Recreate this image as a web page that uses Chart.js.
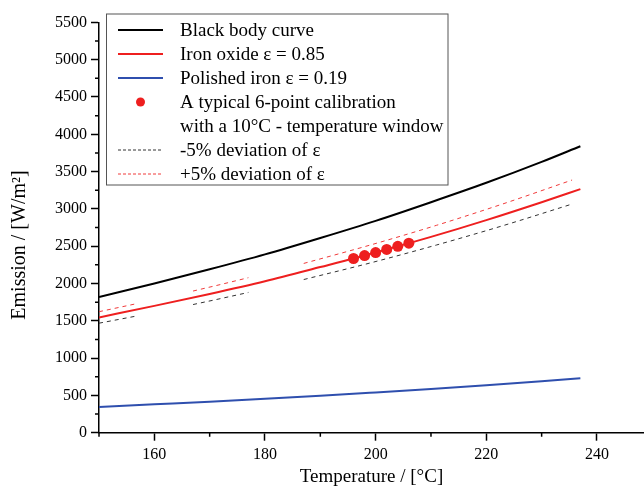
<!DOCTYPE html>
<html lang="en">
<head>
<meta charset="UTF-8">
<title>Emission vs Temperature</title>
<script src="https://cdn.jsdelivr.net/npm/chart.js"></script>
<style>
  html, body { margin: 0; padding: 0; background: #fff; }
  canvas { display: block; }
</style>
</head>
<body>
<canvas id="chart" width="644" height="492"></canvas>
<script>
const temps = [150, 160, 170, 180, 190, 200, 210, 220, 230, 237];
const blackBody = [1820, 2000, 2190, 2390, 2610, 2840, 3090, 3350, 3630, 3840];
const ironOxide = [1545, 1700, 1860, 2030, 2220, 2415, 2625, 2850, 3090, 3265];
const polished  = [345, 380, 415, 455, 495, 540, 587, 637, 690, 730];

// 6-point calibration
const calT = [196, 198, 200, 202, 204, 206];
const calE = [2335, 2375, 2415, 2457, 2498, 2540];

// -5% / +5% deviation segments
const devT1 = [150, 157];
const devT2 = [167, 172, 177];
const devT3 = [187, 199, 211, 223, 235.5];
const minus1 = [1468, 1567];
const minus2 = [1718, 1798, 1880];
const minus3 = [2053, 2275, 2516, 2775, 3065];
const plus1 = [1622, 1733];
const plus2 = [1899, 1987, 2078];
const plus3 = [2269, 2515, 2780, 3067, 3387];

// axis ticks
const xMajor = [160, 180, 200, 220, 240];
const xMinor = [150, 170, 190, 210, 230];
const yMajor = [0, 500, 1000, 1500, 2000, 2500, 3000, 3500, 4000, 4500, 5000, 5500];
const yMinor = [250, 750, 1250, 1750, 2250, 2750, 3250, 3750, 4250, 4750, 5250];

const xTitle = 'Temperature / [\u00b0C]';
const yTitle = 'Emission / [W/m\u00b2]';
const legendLabels = [
  'Black body curve',
  'Iron oxide \u03b5 = 0.85',
  'Polished iron \u03b5 = 0.19',
  'A typical 6-point calibration',
  'with a 10\u00b0C - temperature window',
  '-5% deviation of \u03b5',
  '+5% deviation of \u03b5'
];

const FONT = "'Liberation Serif', 'Times New Roman', serif";
const RED = '#ee1f1f';
const BLUE = '#2f4fae';

const pts = (xs, ys) => xs.map((x, i) => ({ x: x, y: ys[i] }));
const segs = (list) => {
  const out = [];
  list.forEach((s, i) => {
    if (i > 0) out.push({ x: s[0][0], y: null });
    out.push(...pts(s[0], s[1]));
  });
  return out;
};

// short outward ticks between the labelled ones
const minorTicks = {
  id: 'minorTicks',
  afterDraw(chart) {
    const ctx = chart.ctx;
    const xs = chart.scales.x, ys = chart.scales.y;
    const a = chart.chartArea;
    ctx.save();
    ctx.strokeStyle = '#000';
    ctx.lineWidth = 1.5;
    ctx.beginPath();
    xMinor.forEach(v => {
      const px = xs.getPixelForValue(v);
      ctx.moveTo(px, a.bottom);
      ctx.lineTo(px, a.bottom + 4);
    });
    yMinor.forEach(v => {
      const py = ys.getPixelForValue(v);
      ctx.moveTo(a.left, py);
      ctx.lineTo(a.left - 4, py);
    });
    ctx.stroke();
    // y title, sits a bit below the middle of the axis in the original
    ctx.fillStyle = '#000';
    ctx.font = '20px ' + FONT;
    ctx.textAlign = 'center';
    ctx.textBaseline = 'middle';
    ctx.translate(20, 245);
    ctx.rotate(-Math.PI / 2);
    ctx.fillText(yTitle, 0, 0);
    ctx.restore();
  }
};

const boxLegend = {
  id: 'boxLegend',
  afterDraw(chart) {
    const ctx = chart.ctx;
    const L = 106.5, T = 14, R = 448, B = 185;
    ctx.save();
    ctx.fillStyle = '#fff';
    ctx.fillRect(L, T, R - L, B - T);
    ctx.strokeStyle = '#555';
    ctx.lineWidth = 1;
    ctx.strokeRect(L, T, R - L, B - T);
    const rows = [30, 54, 78, 102, 126, 150, 174];
    const x0 = 118, x1 = 163;
    const line = (y, color, w, dash) => {
      ctx.beginPath();
      ctx.setLineDash(dash);
      ctx.strokeStyle = color;
      ctx.lineWidth = w;
      ctx.moveTo(x0, y);
      ctx.lineTo(x1, y);
      ctx.stroke();
      ctx.setLineDash([]);
    };
    line(rows[0], '#000', 2, []);
    line(rows[1], RED, 2, []);
    line(rows[2], BLUE, 2, []);
    ctx.beginPath();
    ctx.fillStyle = RED;
    ctx.arc((x0 + x1) / 2, rows[3], 4.5, 0, Math.PI * 2);
    ctx.fill();
    line(rows[5], '#333', 1, [3, 2]);
    line(rows[6], '#f03a3a', 1, [3, 2]);
    ctx.fillStyle = '#000';
    ctx.font = '19px ' + FONT;
    ctx.textBaseline = 'middle';
    legendLabels.forEach((t, i) => ctx.fillText(t, 180, rows[i] + 1));
    ctx.restore();
  }
};

new Chart(document.getElementById('chart'), {
  type: 'line',
  data: {
    datasets: [
      { label: legendLabels[0], data: pts(temps, blackBody), borderColor: '#000', borderWidth: 2, pointRadius: 0, cubicInterpolationMode: 'monotone' },
      { label: legendLabels[1], data: pts(temps, ironOxide), borderColor: RED, borderWidth: 2, pointRadius: 0, cubicInterpolationMode: 'monotone' },
      { label: legendLabels[2], data: pts(temps, polished), borderColor: BLUE, borderWidth: 2, pointRadius: 0, cubicInterpolationMode: 'monotone' },
      { label: legendLabels[5], data: segs([[devT1, minus1], [devT2, minus2], [devT3, minus3]]), borderColor: '#333', borderWidth: 1, borderDash: [4, 4], pointRadius: 0, spanGaps: false, cubicInterpolationMode: 'monotone' },
      { label: legendLabels[6], data: segs([[devT1, plus1], [devT2, plus2], [devT3, plus3]]), borderColor: '#f03a3a', borderWidth: 1, borderDash: [4, 4], pointRadius: 0, spanGaps: false, cubicInterpolationMode: 'monotone' },
      { label: legendLabels[3], data: pts(calT, calE), showLine: false, pointRadius: 5.5, pointBackgroundColor: RED, pointBorderColor: RED, pointBorderWidth: 0 }
    ]
  },
  options: {
    responsive: false,
    animation: false,
    layout: { autoPadding: false, padding: { top: 22.4, right: 0, left: 0, bottom: 0 } },
    plugins: { legend: { display: false }, tooltip: { enabled: false } },
    scales: {
      x: {
        type: 'linear',
        min: 150,
        max: 248.5,
        afterBuildTicks: s => { s.ticks = xMajor.concat(xMinor).sort((a, b) => a - b).map(v => ({ value: v })); },
        afterFit: s => { s.height = 59.3; s.paddingRight = 0; },
        border: { color: '#000', width: 1.5 },
        grid: { drawOnChartArea: false, tickLength: 8, tickWidth: 1.5, tickColor: c => xMajor.includes(c.tick.value) ? '#000' : 'rgba(0,0,0,0)' },
        ticks: {
          autoSkip: false, maxRotation: 0, padding: 4, color: '#000',
          font: { family: FONT, size: 16 },
          callback: v => xMajor.includes(v) ? String(v) : ''
        },
        title: { display: true, text: xTitle, color: '#000', font: { family: FONT, size: 19 }, padding: { top: 0, bottom: 3.5 } }
      },
      y: {
        type: 'linear',
        min: 0,
        max: 5500,
        afterBuildTicks: s => { s.ticks = yMajor.concat(yMinor).sort((a, b) => a - b).map(v => ({ value: v })); },
        afterFit: s => { s.width = 99; },
        border: { color: '#000', width: 1.5 },
        grid: { drawOnChartArea: false, tickLength: 8, tickWidth: 1.5, tickColor: c => yMajor.includes(c.tick.value) ? '#000' : 'rgba(0,0,0,0)' },
        ticks: {
          autoSkip: false, padding: 4, color: '#000',
          font: { family: FONT, size: 16 },
          callback: v => yMajor.includes(v) ? String(v) : ''
        },
        title: { display: false, text: yTitle }
      }
    }
  },
  plugins: [minorTicks, boxLegend]
});
</script>
</body>
</html>
